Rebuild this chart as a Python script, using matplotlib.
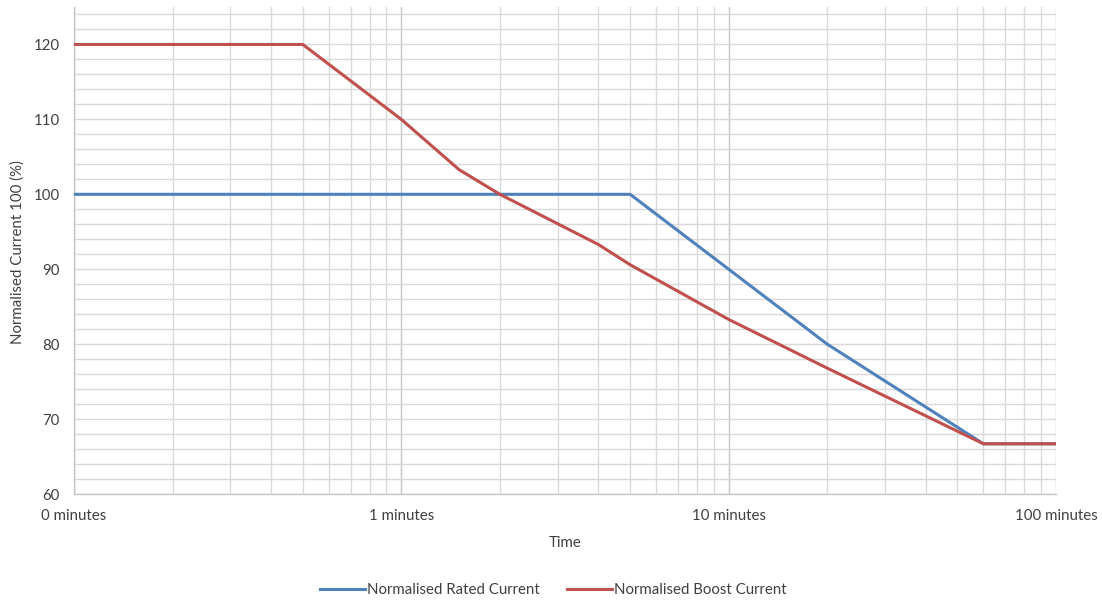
import matplotlib
matplotlib.use("Agg")
import matplotlib.pyplot as plt
from matplotlib.ticker import FixedLocator, FixedFormatter, LogLocator, MultipleLocator, NullFormatter

plt.rcParams['font.family'] = ['Lato', 'DejaVu Sans']

rated_x = [0.1, 5, 10, 20, 60, 100]
rated_y = [100, 100, 90, 80, 66.7, 66.7]
boost_x = [0.1, 0.5, 1, 1.5, 2, 4, 5, 10, 20, 60, 100]
boost_y = [120, 120, 110, 103.3, 100, 93.3, 90.6, 83.3, 76.8, 66.7, 66.7]
xticks = [0.1, 1, 10, 100]
xticklabels = ["0 minutes", "1 minutes", "10 minutes", "100 minutes"]
yticks = [60, 70, 80, 90, 100, 110, 120]

fig = plt.figure(figsize=(11.02, 6.01), dpi=100)
ax = fig.add_axes([74/1102, 107/601, (1056-74)/1102, (494-7)/601])

ax.plot(rated_x, rated_y, color="#4F81BD", lw=2.2, label="Normalised Rated Current", zorder=3)
ax.plot(boost_x, boost_y, color="#C0504D", lw=2.2, label="Normalised Boost Current", zorder=3)

ax.set_xscale("log")
ax.set_xlim(0.1, 100)
ax.set_ylim(60, 125)
ax.xaxis.set_major_locator(FixedLocator(xticks))
ax.xaxis.set_major_formatter(FixedFormatter(xticklabels))
ax.xaxis.set_minor_locator(LogLocator(base=10, subs=range(2, 10)))
ax.xaxis.set_minor_formatter(NullFormatter())
ax.yaxis.set_major_locator(FixedLocator(yticks))
ax.yaxis.set_minor_locator(MultipleLocator(2))

ax.grid(which="major", axis="x", color="#C6C6C6", lw=1)
ax.grid(which="minor", axis="x", color="#D9D9D9", lw=1)
ax.grid(which="both", axis="y", color="#D9D9D9", lw=1)
ax.set_axisbelow(True)

for s in ["top", "right"]:
    ax.spines[s].set_visible(False)
for s in ["left", "bottom"]:
    ax.spines[s].set_color("#C6C6C6")
    ax.spines[s].set_linewidth(1)

fs = 10.8
ax.tick_params(which="both", length=0, labelsize=fs, colors="#404040")
ax.tick_params(axis="y", pad=10)
ax.tick_params(axis="x", pad=11)

ax.set_xlabel("Time", fontsize=fs, color="#404040")
ax.set_ylabel("Normalised Current 100 (%)", fontsize=fs, color="#404040")
ax.xaxis.set_label_coords(0.5, (494-543)/487, transform=ax.transAxes)
ax.yaxis.set_label_coords((18-74)/982, (494-252)/487, transform=ax.transAxes)
ax.xaxis.label.set_va("center")
ax.yaxis.label.set_va("center")

leg = fig.legend(loc="center", bbox_to_anchor=(553/1102, 1-590/601), ncol=2, frameon=False,
                 fontsize=fs, handlelength=3.0, handletextpad=0.15, columnspacing=1.8)
for t in leg.get_texts():
    t.set_color("#404040")

fig.savefig("out.png", dpi=100)
